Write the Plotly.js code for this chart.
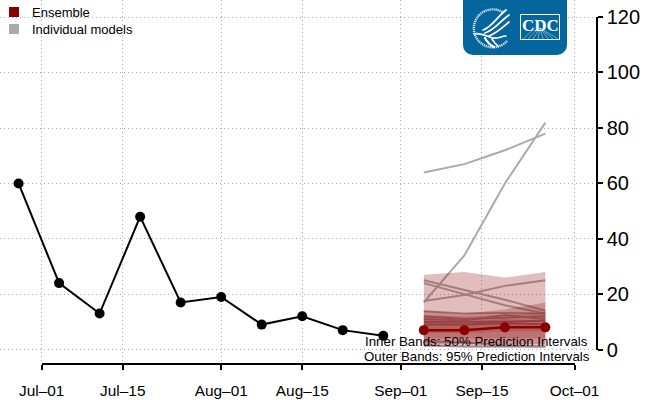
<!DOCTYPE html>
<html>
<head>
<meta charset="utf-8">
<script src="https://cdn.plot.ly/plotly-3.0.1.min.js"></script>
<style>html,body{margin:0;padding:0;background:#fff}#c{width:653px;height:400px}</style>
</head>
<body>
<div id="c"></div>
<script>
const obsDates = ['2020-06-27','2020-07-04','2020-07-11','2020-07-18','2020-07-25','2020-08-01','2020-08-08','2020-08-15','2020-08-22','2020-08-29'];
const obsValues = [60,24,13,48,17,19,9,12,7,5];
const fcDates = ['2020-09-05','2020-09-12','2020-09-19','2020-09-26'];
const ensemble = [7,7,8,8];
const outerUpper = [27,28,26,28];
const outerLower = [1,1,1,0.8];
const midUpper = [14,13,14.5,17];
const midLower = [2,2,2,2];
const innerUpper = [12.5,12,12.5,13.5];
const innerLower = [4,4,4,4];
const coreUpper = [10.5,10,11,10.5];
const coreLower = [6,6,6.5,6.5];
const models = [
  [64,67,72,78],[17,34,60,82],[25,21.5,18,14],[24,20,16,13],[17.5,19.7,23,25],
  [13.8,13,13.2,13],[12,11,11.5,12],[11,10.5,12.5,11],[10,10,10,10.5],[9,9,9.5,9],
  [3,2.5,1.5,1],[1.5,1,1,1]
];
const gridDates = ['2020-07-01','2020-07-15','2020-08-01','2020-08-15','2020-09-01','2020-09-15','2020-10-01'];
const tickLabels = ['Jul–01','Jul–15','Aug–01','Aug–15','Sep–01','Sep–15','Oct–01'];
const yTicks = [0,20,40,60,80,100,120];
const legendNames = ['Ensemble','Individual models'];
const legendColors = ['#8b0000','#aaaaaa'];

const W=653,H=400;
const band=(u,l,a)=>({x:fcDates.concat(fcDates.slice().reverse()),y:u.concat(l.slice().reverse()),
  mode:'lines',fill:'toself',fillcolor:`rgba(139,0,0,${a})`,line:{width:0},hoverinfo:'skip',showlegend:false});
const traces=[];
models.forEach(m=>traces.push({x:fcDates,y:m,mode:'lines',line:{color:'#aaaaaa',width:2},showlegend:false}));
traces.push(
  band(outerUpper,outerLower,0.26),
  band(midUpper,midLower,0.24),
  band(innerUpper,innerLower,0.2),
  band(coreUpper,coreLower,0.16)
);
traces.push({x:obsDates,y:obsValues,mode:'lines+markers',line:{color:'#000',width:2},marker:{color:'#000',size:10},showlegend:false});
traces.push({x:fcDates,y:ensemble,mode:'lines+markers',line:{color:'#8b0000',width:2.5},marker:{color:'#8b0000',size:10},showlegend:false});
traces.push({x:[null],y:[null],xaxis:'x2',yaxis:'y2',mode:'markers',showlegend:false});

const logo=`<svg xmlns="http://www.w3.org/2000/svg" width="416" height="224" viewBox="0 0 104 56">
<path d="M0 0H104V45a10 10 0 0 1-10 10H10A10 10 0 0 1 0 45Z" fill="#05669d"/>
<path d="M41 13A19 19 0 1 0 44 41" fill="none" stroke="#fff" stroke-width="2.4" stroke-dasharray="1.2 .8" opacity=".85"/>
<g fill="none" stroke="#fff" stroke-linecap="round">
<path d="M20 30C29 27 33 18 43 10" stroke-width="1.8"/>
<path d="M22 33C32 30 36 22 46 15" stroke-width="1.8"/>
<path d="M26 36C34 33 39 28 46 22" stroke-width="1.8"/>
<path d="M11 34C18 32 25 37 30 38S38 36 43 36" stroke-width="1.6"/>
<path d="M22 38C24 42 27 45 31 47" stroke-width="2.2"/>
<path d="M29 39C31 42 32 44 35 46" stroke-width="1.6"/>
</g>
<rect x="57.5" y="14.5" width="39" height="25" fill="#05669d" stroke="#fff" stroke-width="1"/>
<g stroke="#cfe2ee" stroke-width=".5"><path d="M60 39L72 28M65 39L75 28M70 39L77 28M75 39L77 28M80 39L77 28M85 39L77 28M90 39L77 28M95 39L77 28"/></g>
</svg>`;

const legendY=[12,29];
const gridDash='1px,3px';
const layout={
  width:W,height:H,margin:{l:0,r:0,t:0,b:0},paper_bgcolor:'#fff',plot_bgcolor:'rgba(0,0,0,0)',
  font:{family:'"Liberation Sans",Arial,sans-serif',color:'#000'},
  showlegend:false,
  xaxis:{domain:[0,597/W],range:['2020-06-23 19:00','2020-10-04 22:00'],type:'date',tickmode:'array',tickvals:gridDates,
    showticklabels:false,ticks:'',showline:false,zeroline:false,showgrid:true,gridcolor:'#aaa',gridwidth:1,griddash:gridDash,anchor:'y'},
  yaxis:{domain:[1-364/H,1],range:[-14.5/2.767,349.5/2.767],tickmode:'array',tickvals:yTicks,
    showticklabels:false,ticks:'',showline:false,zeroline:false,showgrid:true,gridcolor:'#aaa',gridwidth:1,griddash:gridDash,anchor:'x'},
  xaxis2:{domain:[41.7/W,574.6/W],range:['2020-07-01','2020-10-01'],type:'date',anchor:'free',position:1-363.5/H,side:'bottom',
    tickmode:'array',tickvals:gridDates,ticktext:tickLabels,ticks:'outside',ticklen:5,tickwidth:2,tickcolor:'#000',
    showline:true,linecolor:'#000',linewidth:2,showgrid:false,zeroline:false,tickfont:{size:15.4,color:'#000'},ticklabelstandoff:8},
  yaxis2:{domain:[1-349.5/H,1-17/H],range:[0,120],anchor:'free',position:596.7/W,side:'right',
    tickmode:'array',tickvals:yTicks,ticks:'outside',ticklen:5,tickwidth:2,tickcolor:'#000',
    showline:true,linecolor:'#000',linewidth:2,showgrid:false,zeroline:false,tickfont:{size:20,color:'#000'}},
  shapes:legendColors.map((c,i)=>({type:'rect',xref:'paper',yref:'paper',x0:9/W,x1:19/W,y0:1-(legendY[i]+5)/H,y1:1-(legendY[i]-5)/H,fillcolor:c,line:{width:0}})),
  images:[{source:'data:image/svg+xml;utf8,'+encodeURIComponent(logo),xref:'paper',yref:'paper',x:463/W,y:1,sizex:104/W,sizey:56/H,xanchor:'left',yanchor:'top',sizing:'stretch',layer:'above'}],
  annotations:[
    ...legendNames.map((n,i)=>({text:n,xref:'paper',yref:'paper',x:31/W,y:1-legendY[i]/H,xanchor:'left',yanchor:'middle',showarrow:false,font:{size:13,color:'#000'},borderpad:0})),
    {text:'Inner Bands: 50% Prediction Intervals',xref:'paper',yref:'paper',x:590/W,y:1-341/H,xanchor:'right',yanchor:'middle',showarrow:false,font:{size:13.3,color:'#000'}},
    {text:'Outer Bands: 95% Prediction Intervals',xref:'paper',yref:'paper',x:592/W,y:1-356/H,xanchor:'right',yanchor:'middle',showarrow:false,font:{size:13.3,color:'#000'}},
    {text:'<b>CDC</b>',xref:'paper',yref:'paper',x:540/W,y:1-26/H,xanchor:'center',yanchor:'middle',showarrow:false,font:{family:'"Liberation Serif",serif',size:17,color:'#fff'}}
  ]
};
Plotly.newPlot('c',traces,layout,{displayModeBar:false,staticPlot:true});
</script>
</body>
</html>
